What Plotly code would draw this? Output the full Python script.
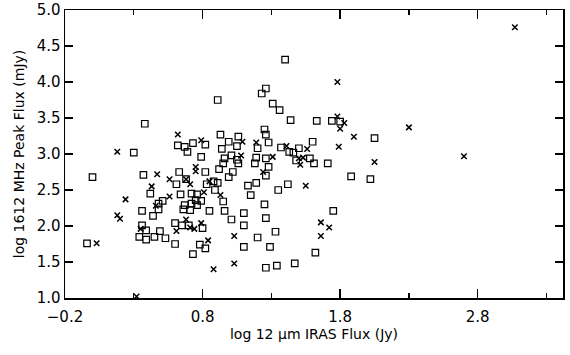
import plotly.graph_objects as go

# Open squares: (log 12um IRAS flux, log 1612 MHz peak flux)
sq_x = [-0.04, 0.00, 0.30, 0.38, 0.37, 0.42, 0.36, 0.44, 0.51, 0.48,
        0.48, 0.36, 0.39, 0.34, 0.39, 0.45, 0.49, 0.53, 0.60, 0.60,
        0.65, 0.70, 0.80, 0.73, 0.78, 0.82, 0.62, 0.67, 0.69, 0.73,
        0.82, 0.79, 0.82, 0.63, 0.61, 0.68, 0.83, 0.88, 0.91, 0.92,
        0.64, 0.72, 0.76, 0.67, 0.72, 0.75, 0.76, 0.79, 0.66, 0.71,
        0.85, 0.89, 0.95, 0.96, 1.01, 1.10, 1.10, 1.15, 1.13, 1.19,
        1.25, 1.26, 1.33, 1.20, 1.10, 1.29, 1.35, 1.42, 1.26, 1.34,
        1.47, 1.62, 1.75, 1.88, 2.02, 2.05, 0.91, 1.26, 1.23, 1.31,
        1.36, 1.40, 1.44, 1.63, 1.74, 1.80, 0.93, 1.06, 0.99, 1.05,
        0.94, 1.01, 1.05, 0.96, 0.95, 1.06, 1.02, 0.99, 1.25, 1.26,
        1.28, 1.20, 1.37, 1.43, 1.46, 1.50, 1.48, 1.19, 1.18, 1.26,
        1.28, 1.26, 1.60, 1.58, 1.61, 1.71]
sq_y = [1.76, 2.68, 3.02, 3.42, 2.71, 2.45, 2.21, 2.14, 2.35, 2.31,
        2.23, 2.01, 1.94, 1.85, 1.81, 1.85, 1.93, 1.83, 1.75, 2.04,
        2.01, 2.01, 1.97, 1.61, 1.74, 1.69, 3.12, 3.10, 3.03, 3.15,
        3.13, 2.96, 2.75, 2.75, 2.58, 2.65, 2.58, 2.62, 2.60, 2.79,
        2.44, 2.45, 2.44, 2.29, 2.31, 2.36, 2.29, 2.35, 2.23, 2.22,
        2.21, 2.50, 2.34, 2.21, 2.09, 2.18, 2.01, 2.43, 2.56, 2.60,
        2.30, 2.11, 1.92, 1.84, 1.71, 1.71, 2.50, 2.58, 1.42, 1.45,
        1.48, 1.63, 2.21, 2.69, 2.65, 3.22, 3.75, 3.91, 3.84, 3.70,
        3.61, 4.31, 3.47, 3.46, 3.46, 3.45, 3.27, 3.24, 3.17, 3.11,
        3.07, 2.98, 2.92, 2.94, 2.87, 2.87, 2.75, 2.68, 3.34, 3.27,
        3.16, 3.08, 3.09, 3.03, 3.02, 3.08, 2.91, 2.95, 2.87, 2.94,
        2.82, 2.70, 3.17, 2.94, 2.87, 2.87]

# Crosses
cx_x = [0.03, 0.18, 0.24, 0.18, 0.20, 0.32, 0.47, 0.43, 0.56, 0.46,
        0.56, 0.62, 0.79, 0.75, 0.75, 0.68, 0.71, 0.81, 0.68, 0.61,
        0.71, 0.74, 0.79, 0.35, 0.84, 0.88, 1.03, 1.03, 0.93, 0.85,
        1.09, 1.08, 1.19, 1.41, 1.31, 1.24, 1.50, 1.53, 1.56, 1.51,
        1.55, 1.66, 1.72, 1.66, 1.78, 1.78, 1.83, 1.80, 1.90, 1.79,
        2.05, 2.30, 2.70, 3.07]
cx_y = [1.76, 3.03, 2.37, 2.15, 2.10, 1.02, 2.72, 2.55, 2.65, 2.28,
        2.41, 3.27, 3.19, 2.82, 2.76, 2.65, 2.58, 2.47, 2.09, 1.93,
        1.98, 1.96, 2.04, 1.96, 1.80, 1.40, 1.86, 1.48, 2.43, 2.62,
        3.17, 2.98, 3.16, 3.11, 2.96, 2.75, 2.94, 2.95, 3.07, 2.85,
        2.56, 2.05, 1.98, 1.86, 4.00, 3.52, 3.43, 3.35, 3.24, 3.10,
        2.89, 3.37, 2.97, 4.76]

x_ticks = [-0.2, 0.8, 1.8, 2.8]
x_minor_ticks = [0.3, 1.3, 2.3, 3.3]
y_ticks = [1.0, 1.5, 2.0, 2.5, 3.0, 3.5, 4.0, 4.5, 5.0]

FONT = "DejaVu Sans"

fig = go.Figure()
fig.add_trace(go.Scatter(
    x=sq_x, y=sq_y, mode="markers",
    marker=dict(symbol="square-open", size=6.5, color="black",
                line=dict(width=1.2, color="black")),
    cliponaxis=False, showlegend=False))
fig.add_trace(go.Scatter(
    x=cx_x, y=cx_y, mode="markers",
    marker=dict(symbol="x-thin-open", size=5.5, color="black",
                line=dict(width=1.5, color="black")),
    cliponaxis=False, showlegend=False))

axis_common = dict(
    showgrid=False, zeroline=False, showline=True, linecolor="black",
    linewidth=1.5, mirror="allticks", ticks="inside", tickcolor="black",
    tickwidth=1.3, tickformat=".1f", automargin=False,
    tickfont=dict(family=FONT, size=15, color="black"),
)

fig.update_xaxes(
    **axis_common, range=[-0.2, 3.42], tickmode="array",
    tickvals=x_ticks, ticklen=9, ticklabelstandoff=4,
    minor=dict(ticks="inside", ticklen=5, tickwidth=1.3, tickcolor="black",
               tickmode="array", tickvals=x_minor_ticks),
    title=dict(text="log 12 μm IRAS Flux (Jy)", standoff=4,
               font=dict(family=FONT, size=14, color="black")),
)
fig.update_yaxes(
    **axis_common, range=[1.0, 5.0], tickmode="array",
    tickvals=y_ticks, ticklen=8,
    title=dict(text="log 1612 MHz Peak Flux (mJy)", standoff=8,
               font=dict(family=FONT, size=14, color="black")),
)

fig.update_layout(
    width=570, height=355,
    margin=dict(l=65, r=7, t=10, b=57),
    paper_bgcolor="white", plot_bgcolor="white",
)

fig.write_html("out.html",
               config={"displayModeBar": False, "staticPlot": True},
               post_script="document.body.style.margin='0';"
                           "document.body.style.overflow='hidden';")
